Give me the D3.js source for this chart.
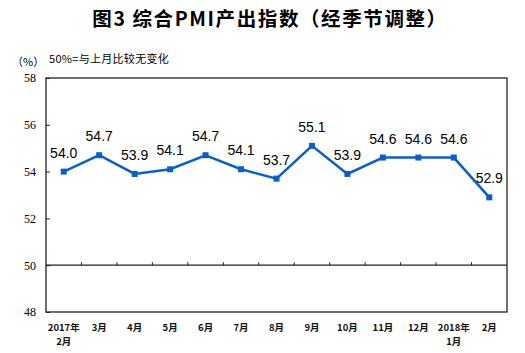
<!DOCTYPE html>
<html>
<head>
<meta charset="utf-8">
<script src="https://d3js.org/d3.v7.min.js"></script>
<style>
body { margin: 0; background: #fff; }
</style>
</head>
<body>
<div id="chart-area"></div>
<script>
var months = ["2017年\n2月", "3月", "4月", "5月", "6月", "7月", "8月", "9月", "10月", "11月", "12月", "2018年\n1月", "2月"];
var values = [54.0, 54.7, 53.9, 54.1, 54.7, 54.1, 53.7, 55.1, 53.9, 54.6, 54.6, 54.6, 52.9];
var yTicks = [48, 50, 52, 54, 56, 58];

var margin = { left: 46, right: 18, top: 78, bottom: 41 };
var width = 525 - margin.left - margin.right,
    height = 353 - margin.top - margin.bottom;

var svg = d3.select("#chart-area")
    .append("svg")
        .attr("width", 525)
        .attr("height", 353);

// Title
svg.append("text")
    .attr("x", 270)
    .attr("y", 26)
    .attr("text-anchor", "middle")
    .attr("font-family", "Noto Sans CJK SC")
    .attr("font-weight", "bold")
    .attr("font-size", "19.5px")
    .attr("letter-spacing", "1.6px")
    .text("图3 综合PMI产出指数（经季节调整）");

svg.append("text")
    .attr("x", 12)
    .attr("y", 66)
    .attr("font-family", "Noto Sans CJK SC")
    .attr("font-size", "11px")
    .text("（%）");

svg.append("text")
    .attr("x", 49)
    .attr("y", 63)
    .attr("font-family", "Noto Sans CJK SC")
    .attr("font-size", "11px")
    .attr("letter-spacing", "0.3px")
    .text("50%=与上月比较无变化");

var g = svg.append("g")
    .attr("transform", "translate(" + margin.left + "," + margin.top + ")");

var x = d3.scaleBand()
    .domain(months)
    .range([0, width]);

var y = d3.scaleLinear()
    .domain([48, 58])
    .range([height, 0]);

// frame
g.append("rect")
    .attr("x", 0).attr("y", 0)
    .attr("width", width).attr("height", height)
    .attr("fill", "none")
    .attr("stroke", "#222")
    .attr("stroke-width", 1.3);

// y axis
var yAxisCall = d3.axisRight(y)
    .tickValues(yTicks)
    .tickSize(4)
    .tickFormat(d3.format("d"));
var yAxis = g.append("g").call(yAxisCall);
yAxis.select(".domain").remove();
yAxis.selectAll("line").attr("stroke", "#222");
yAxis.selectAll("text")
    .attr("x", -10)
    .attr("text-anchor", "end")
    .attr("font-family", "Liberation Serif")
    .attr("font-size", "12px")
    .attr("fill", "#000");

// 50 baseline with ticks at category boundaries
g.append("line")
    .attr("x1", 0).attr("x2", width)
    .attr("y1", y(50)).attr("y2", y(50))
    .attr("stroke", "#222")
    .attr("stroke-width", 1.3);

g.selectAll(".xtick")
    .data(months.slice(1))
    .enter()
    .append("line")
        .attr("class", "xtick")
        .attr("x1", d => x(d))
        .attr("x2", d => x(d))
        .attr("y1", y(50))
        .attr("y2", y(50) - 3)
        .attr("stroke", "#222");

// x labels
var xl = g.selectAll(".xlabel")
    .data(months)
    .enter()
    .append("text")
        .attr("class", "xlabel")
        .attr("text-anchor", "middle")
        .attr("font-family", "Noto Sans CJK SC")
        .attr("font-size", "9.5px")
        .attr("font-weight", "bold")
        .attr("fill", "#111")
        .attr("transform", d => "translate(" + (x(d) + x.bandwidth() / 2) + "," + (height + 19) + ")");

xl.selectAll("tspan")
    .data(d => d.split("\n"))
    .enter()
    .append("tspan")
        .attr("x", 0)
        .attr("dy", (d, i) => i === 0 ? 0 : 14)
        .text(d => d);

// line
var line = d3.line()
    .x((d, i) => x(months[i]) + x.bandwidth() / 2)
    .y(d => y(d));

g.append("path")
    .datum(values)
    .attr("d", line)
    .attr("fill", "none")
    .attr("stroke", "#0a5fc7")
    .attr("stroke-width", 2.5);

g.selectAll(".marker")
    .data(values)
    .enter()
    .append("rect")
        .attr("class", "marker")
        .attr("x", (d, i) => x(months[i]) + x.bandwidth() / 2 - 3)
        .attr("y", d => y(d) - 3)
        .attr("width", 6)
        .attr("height", 6)
        .attr("fill", "#0a5fc7");

g.selectAll(".vlabel")
    .data(values)
    .enter()
    .append("text")
        .attr("class", "vlabel")
        .attr("x", (d, i) => x(months[i]) + x.bandwidth() / 2)
        .attr("y", d => y(d) - 14)
        .attr("text-anchor", "middle")
        .attr("font-family", "Liberation Sans")
        .attr("font-size", "14px")
        .text(d => d.toFixed(1));
</script>
</body>
</html>
